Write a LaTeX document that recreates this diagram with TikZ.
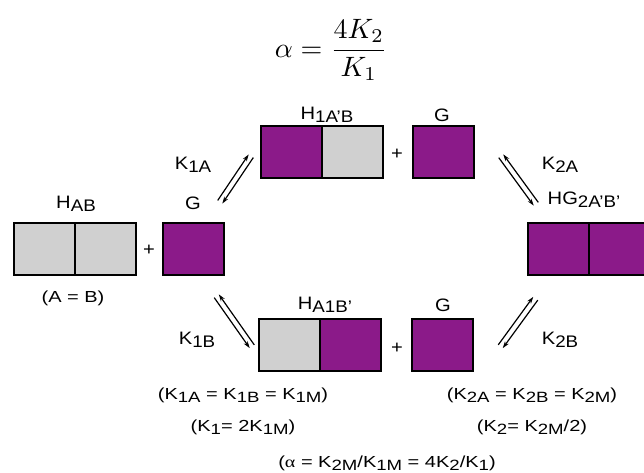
\documentclass[tikz,border=0pt]{standalone}
\usepackage[no-math]{fontspec}
\setmainfont{Liberation Sans}
\newfontfamily\lblfont[FakeStretch=1.12]{Liberation Sans}
\newfontfamily\notefont[FakeStretch=1.25]{Liberation Sans}
\newfontfamily\grkfont[FakeStretch=1.25]{Liberation Serif}
\usetikzlibrary{calc,arrows.meta}

\definecolor{hgpurple}{RGB}{139,26,137}
\definecolor{hggray}{RGB}{208,208,208}

% lowered, nearly full size subscript
\newcommand{\lsub}[1]{\raisebox{-0.18em}{\scalebox{0.93}{#1}}}

% pair of opposite half arrows along a-b
\newcommand{\eqarrows}[3]{%
\draw [eqline] ($(#1)!#3!90:(#2)$) -- ($(#2)!#3!-90:(#1)$);
\draw [eqline] ($(#2)!#3!90:(#1)$) -- ($(#1)!#3!-90:(#2)$);}

\tikzset{
  sq/.style={draw=black, line width=1.6pt, minimum width=61pt,
    minimum height=52pt, anchor=south west, inner sep=0pt},
  hsq/.style={sq, fill=hggray},
  gsq/.style={sq, fill=hgpurple},
  lbl/.style={font=\lblfont\fontsize{18}{18}\selectfont, inner sep=0pt},
  note/.style={font=\notefont\fontsize{16}{16}\selectfont, inner sep=0pt},
  eqline/.style={line width=1.2pt, -{Stealth[length=7pt,width=4.5pt]}}
}

\begin{document}
\begin{tikzpicture}[x=1pt,y=1pt]

\useasboundingbox (0,0) rectangle (644,472);
\clip (0,0) rectangle (644,472);

\node [inner sep=0pt] (alpha) at (331,422)
 {\scalebox{2.8}[2.8]{$\displaystyle\alpha = \frac{4K_2}{K_1}$}};


% free host + guest
\node [hsq] (hab1) at (13,196) {};
\node [hsq] (hab2) at (74,196) {};
\node [gsq] (g0) at (162,196) {};

\node [lbl] (plus0) at (149,222) {+};
\node [lbl] (lab-hab) at (76,268) {H\lsub{AB}};
\node [lbl] (lab-g0) at (193,269) {G};
\node [note] (ab) at (73,174) {(A = B)};


% first complex, site A
\node [gsq] (h1a) at (260,293) {};
\node [hsq] (h1b) at (321,293) {};
\node [gsq] (g1) at (412,293) {};

\node [lbl] (plus1) at (397,318) {+};
\node [lbl] (lab-h1) at (327,357) {H\lsub{1A’B}};
\node [lbl] (lab-g1) at (442,357) {G};


% first complex, site B
\node [hsq] (h1c) at (258,100) {};
\node [gsq] (h1d) at (319,100) {};
\node [gsq] (g1b) at (411,100) {};

\node [lbl] (plus2) at (397,124) {+};
\node [lbl] (lab-h1b) at (325,167) {H\lsub{A1B’}};
\node [lbl] (lab-g1b) at (443,167) {G};


% second complex
\node [gsq] (hg2a) at (527,196) {};
\node [gsq] (hg2b) at (588,196) {};

\node [lbl] (lab-hg2) at (584,272) {HG\lsub{2A’B’}};


% equilibria
\coordinate (k1a-s) at (220,270);
\coordinate (k1a-e) at (251,316);
\eqarrows{k1a-s}{k1a-e}{2.8pt}

\coordinate (k2a-s) at (501,316);
\coordinate (k2a-e) at (536,268);
\eqarrows{k2a-s}{k2a-e}{-2.8pt}

\coordinate (k1b-s) at (216.5,176);
\coordinate (k1b-e) at (252,125.5);
\eqarrows{k1b-s}{k1b-e}{-2.8pt}

\coordinate (k2b-s) at (500.5,125.5);
\coordinate (k2b-e) at (535.5,173.5);
\eqarrows{k2b-s}{k2b-e}{2.8pt}

\node [lbl] (lab-k1a) at (193,307) {K\lsub{1A}};
\node [lbl] (lab-k2a) at (560,307) {K\lsub{2A}};
\node [lbl] (lab-k1b) at (197,132) {K\lsub{1B}};
\node [lbl] (lab-k2b) at (560,132) {K\lsub{2B}};


% relations
\node [note] (rel1) at (243,77) {(K\lsub{1A} = K\lsub{1B} = K\lsub{1M})};
\node [note] (rel2) at (243,45) {(K\lsub{1}= 2K\lsub{1M})};
\node [note] (rel3) at (532,77) {(K\lsub{2A} = K\lsub{2B} = K\lsub{2M})};
\node [note] (rel4) at (532,45) {(K\lsub{2}= K\lsub{2M}/2)};
\node [note] (rel5) at (387,9) {({\grkfont α} = K\lsub{2M}/K\lsub{1M} = 4K\lsub{2}/K\lsub{1})};

\end{tikzpicture}
\end{document}
